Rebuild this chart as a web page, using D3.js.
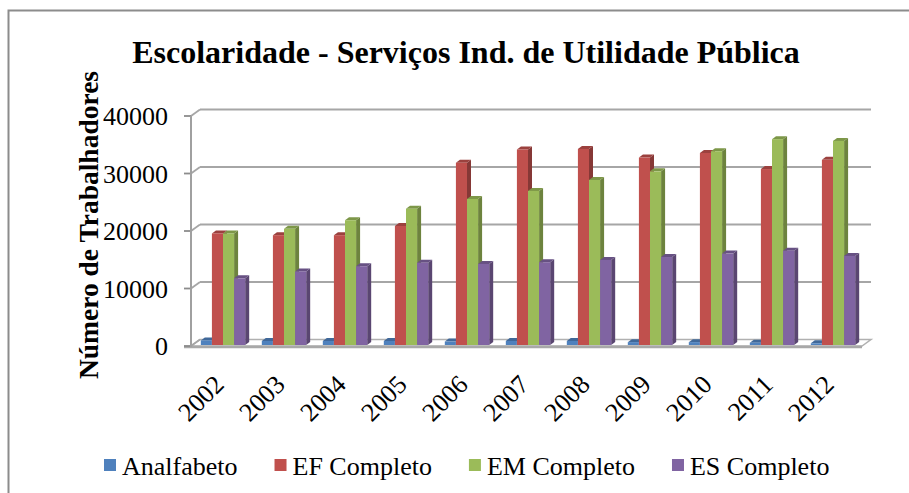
<!DOCTYPE html>
<html><head><meta charset="utf-8">
<script src="https://cdn.jsdelivr.net/npm/d3@7"></script>
<style>body{margin:0;background:#fff}svg{display:block}</style>
</head><body><svg id="c" width="909" height="493"></svg>
<script>
const title = "Escolaridade - Serviços Ind. de Utilidade Pública";
const yTitle = "Número de Trabalhadores";
const years = ["2002","2003","2004","2005","2006","2007","2008","2009","2010","2011","2012"];
const seriesNames = ["Analfabeto","EF Completo","EM Completo","ES Completo"];
const seriesColors = ["#4F81BD","#C0504D","#9BBB59","#8064A2"];
const analfabeto = [800,700,700,700,600,700,700,500,500,400,300];
const efCompleto = [19400,19100,19100,20700,31700,34000,34100,32600,33400,30600,32200];
const emCompleto = [19400,20200,21700,23700,25400,26800,28700,30200,33700,35800,35500];
const esCompleto = [11600,12800,13700,14300,14100,14400,14800,15300,15900,16400,15500];
const yTicks = [0,10000,20000,30000,40000];
const seriesValues = [analfabeto, efCompleto, emCompleto, esCompleto];

const svg = d3.select("#c");
const font = "'Liberation Serif','Times New Roman',serif";

// chart frame border
svg.append("rect").attr("x",8.5).attr("y",10.5).attr("width",1200).attr("height",1200)
  .attr("fill","none").attr("stroke","#8c8c8c").attr("stroke-width",2);

// geometry
const X0 = 191, X1 = 862, Y0 = 346, Y1 = 116;
const DX = 9, DY = -6.5;           // wall depth
const x = d3.scaleBand().domain(years).range([X0, X1]).paddingInner(0).paddingOuter(0);
const y = d3.scaleLinear().domain([0, 40000]).range([Y0, Y1]);
const bw = x.bandwidth() / 5.5;     // gap width 150%
const bFx = 1.5, bFy = -1;          // bar front offset
const bDx = 4, bDy = -3;            // bar depth

const grid = svg.append("g");
// floor
grid.append("path")
  .attr("d", `M${X0},${Y0} L${X1},${Y0} L${X1+DX},${Y0+DY} L${X0+DX},${Y0+DY} Z`)
  .attr("fill","#fff").attr("stroke","#b0b0b0").attr("stroke-width",1.5);
grid.append("line").attr("x1",X0-7).attr("x2",X1).attr("y1",Y0+1).attr("y2",Y0+1)
  .attr("stroke","#a8a8a8").attr("stroke-width",2.5);

// back wall gridlines + side wall diagonals + ticks
yTicks.forEach(t => {
  const yy = y(t);
  if (t > 0) {
    grid.append("line").attr("x1",X0+DX).attr("x2",X1+DX).attr("y1",yy+DY).attr("y2",yy+DY)
      .attr("stroke","#a6a6a6").attr("stroke-width",2);
  }
  grid.append("line").attr("x1",X0).attr("x2",X0+DX).attr("y1",yy).attr("y2",yy+DY)
    .attr("stroke","#a6a6a6").attr("stroke-width",1.8);
  grid.append("line").attr("x1",X0-7).attr("x2",X0).attr("y1",yy).attr("y2",yy)
    .attr("stroke","#8c8c8c").attr("stroke-width",1.8);
});
grid.append("line").attr("x1",X0).attr("x2",X0).attr("y1",Y1).attr("y2",Y0+1)
  .attr("stroke","#a0a0a0").attr("stroke-width",2);

// bars
const bars = svg.append("g");
years.forEach((yr, j) => {
  seriesValues.forEach((vals, i) => {
    const v = vals[j];
    const c = d3.color(seriesColors[i]);
    const fx = x(yr) + 0.75*bw + i*bw + bFx;
    const base = y(0) + bFy, top = y(v) + bFy;
    const g = bars.append("g");
    g.append("path").attr("d",
      `M${fx+bw},${base} L${fx+bw+bDx},${base+bDy} L${fx+bw+bDx},${top+bDy} L${fx+bw},${top} Z`)
      .attr("fill", c.darker(1.0).formatHex());
    g.append("path").attr("d",
      `M${fx},${top} L${fx+bDx},${top+bDy} L${fx+bw+bDx},${top+bDy} L${fx+bw},${top} Z`)
      .attr("fill", c.darker(0.6).formatHex());
    g.append("rect").attr("x",fx).attr("y",top).attr("width",bw).attr("height",base-top)
      .attr("fill", c.formatHex());
  });
});

// y tick labels
svg.append("g").selectAll("text").data(yTicks).join("text")
  .attr("x",168).attr("y",d=>y(d)).attr("dy","0.35em")
  .attr("text-anchor","end").attr("font-family",font).attr("font-size",26)
  .attr("fill","#000").text(d=>d);

// x labels
svg.append("g").selectAll("text").data(years).join("text")
  .attr("transform",d=>`translate(${x(d)+x.bandwidth()/2+4},${386}) rotate(-45)`)
  .attr("text-anchor","end").attr("font-family",font).attr("font-size",26)
  .attr("fill","#000").text(d=>d);

// title
svg.append("text").attr("x",466).attr("y",63).attr("text-anchor","middle")
  .attr("font-family",font).attr("font-weight","bold").attr("font-size",32)
  .attr("fill","#000").text(title);

// y axis title
svg.append("text").attr("transform","translate(88,225) rotate(-90)")
  .attr("text-anchor","middle").attr("dy","0.35em")
  .attr("font-family",font).attr("font-weight","bold").attr("font-size",27.5)
  .attr("fill","#000").text(yTitle);

// legend
const leg = svg.append("g");
let lx = 104;
seriesNames.forEach((n, i) => {
  leg.append("rect").attr("x",lx).attr("y",459).attr("width",12).attr("height",12)
    .attr("fill",seriesColors[i]);
  const t = leg.append("text").attr("x",lx+18).attr("y",466).attr("dy","0.35em")
    .attr("font-family",font).attr("font-size",26).attr("fill","#000").text(n);
  lx += 18 + t.node().getComputedTextLength() + 37;
});
</script></body></html>
